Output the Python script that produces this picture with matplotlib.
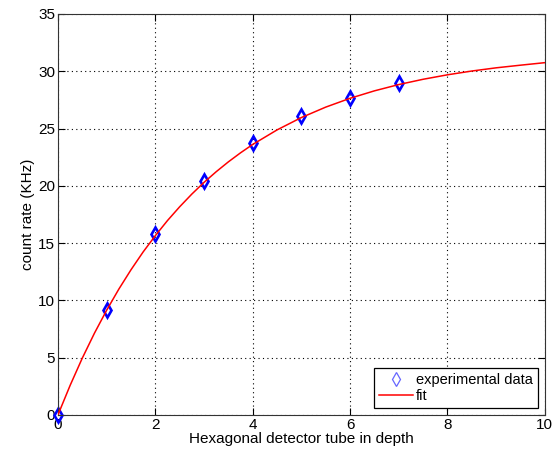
import matplotlib
matplotlib.use("Agg")
import matplotlib.pyplot as plt

plt.rcParams['font.family'] = ['Liberation Sans', 'DejaVu Sans']

# experimental data
depth = [0, 1, 2, 3, 4, 5, 6, 7]
rate = [0.0, 9.2, 15.75, 20.4, 23.75, 26.1, 27.7, 28.95]

# fit curve
fit_x = [0, 0.25, 0.5, 0.75, 1, 1.25, 1.5, 1.75, 2, 2.25, 2.5, 2.75, 3, 3.25, 3.5, 3.75,
         4, 4.5, 5, 5.5, 6, 6.5, 7, 7.5, 8, 8.5, 9, 9.5, 10]
fit_y = [0.0, 2.58, 4.96, 7.14, 9.14, 10.98, 12.67, 14.23, 15.65, 16.97, 18.17, 19.28,
         20.30, 21.23, 22.09, 22.88, 23.61, 24.88, 25.96, 26.87, 27.64, 28.29, 28.84,
         29.30, 29.69, 30.02, 30.30, 30.53, 30.75]

xticks = [0, 2, 4, 6, 8, 10]
yticks = [0, 5, 10, 15, 20, 25, 30, 35]

fig = plt.figure(figsize=(5.52, 4.51), dpi=100)
ax = fig.add_axes([0.105, 0.080, 0.882, 0.889])

ax.plot(depth, rate, linestyle='none', marker='d', markersize=7,
        markerfacecolor='none', markeredgecolor='#0000ff', markeredgewidth=1.9,
        label='experimental data', zorder=2, clip_on=False)
ax.plot(fit_x, fit_y, color='#ff0000', linewidth=1.1, label='fit', zorder=3)

ax.set_xlim(0, 10)
ax.set_ylim(0, 35)
ax.set_xticks(xticks)
ax.set_yticks(yticks)
ax.grid(True, linestyle=(0, (1, 3)), color='black', linewidth=0.8)
ax.tick_params(direction='in', top=True, right=True, length=5, width=0.8,
               labelsize=11, pad=2)
for s in ax.spines.values():
    s.set_linewidth(0.8)
    s.set_color('#333333')

ax.set_xlabel('Hexagonal detector tube in depth', fontsize=11, labelpad=0)
ax.set_ylabel('count rate (KHz)', fontsize=11, labelpad=2)

leg = ax.legend(loc='lower right', fontsize=10.5, fancybox=False, framealpha=1,
                edgecolor='black', borderaxespad=0.45, handlelength=2.3,
                borderpad=0.35, labelspacing=0.15, handletextpad=0.25)
leg.get_frame().set_linewidth(0.9)
h = leg.legend_handles[0]
h.set_markersize(7)
h.set_markeredgewidth(0.9)
h.set_markeredgecolor('#6666ff')

fig.savefig('out.png', dpi=100)
